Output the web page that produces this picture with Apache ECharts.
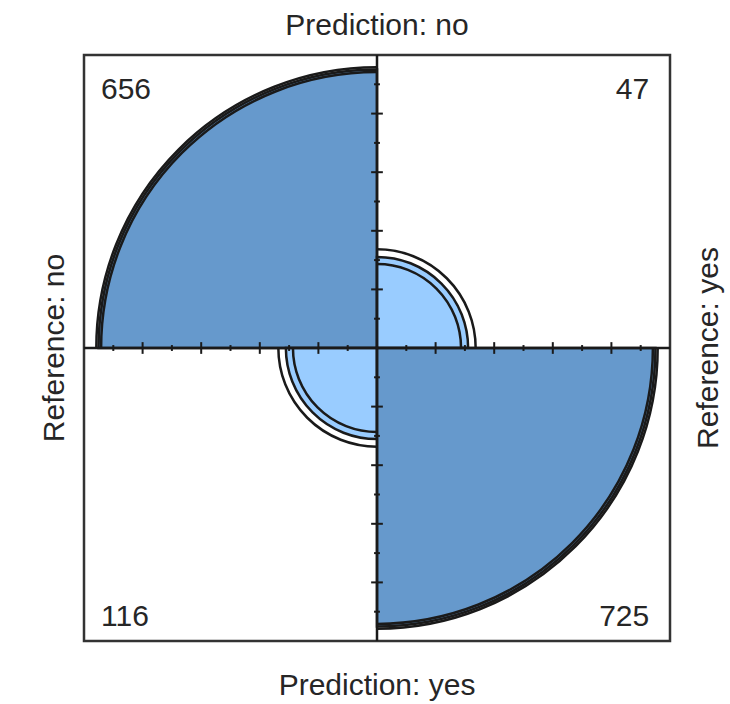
<!DOCTYPE html>
<html>
<head>
<meta charset="utf-8">
<script src="https://cdn.jsdelivr.net/npm/echarts@6/dist/echarts.min.js"></script>
<style>
  html, body { margin: 0; padding: 0; background: #fff; }
  #chart { width: 730px; height: 704px; }
</style>
</head>
<body>
<div id="chart"></div>
<script>
// confusion matrix: rows = Prediction (no, yes), columns = Reference (no, yes)
const predictionLabels = ['Prediction: no', 'Prediction: yes'];
const referenceLabels = ['Reference: no', 'Reference: yes'];
const countNoNo = 656;   // pred no, ref no   (top left)
const countNoYes = 47;   // pred no, ref yes  (top right)
const countYesNo = 116;  // pred yes, ref no  (bottom left)
const countYesYes = 725; // pred yes, ref yes (bottom right)
const confLevel = 0.95;
const majorTicks = [-0.8, -0.6, -0.4, -0.2, 0.2, 0.4, 0.6, 0.8];
const minorTicks = [-0.9, -0.7, -0.5, -0.3, -0.1, 0.1, 0.3, 0.5, 0.7, 0.9];

const fillLight = '#99CCFF';
const fillDark = '#6699CC';
const ink = '#1a1a1a';
const font = '"Liberation Sans", Arial, sans-serif';

// standardize to equal margins: diagonal cell = s/(1+s), off diagonal = 1/(1+s), s = sqrt(odds ratio)
function stdCells(theta) {
  const s = Math.sqrt(theta);
  return { diag: s / (1 + s), off: 1 / (1 + s) };
}
const oddsRatio = (countNoNo * countYesYes) / (countNoYes * countYesNo);
const se = Math.sqrt(1 / countNoNo + 1 / countNoYes + 1 / countYesNo + 1 / countYesYes);
const z = 1.959964; // qnorm((1 + confLevel) / 2)
const orLow = Math.exp(Math.log(oddsRatio) - z * se);
const orHigh = Math.exp(Math.log(oddsRatio) + z * se);
const est = stdCells(oddsRatio), lo = stdCells(orLow), hi = stdCells(orHigh);

// quadrant: [radius, fromDeg, toDeg, isDiagonal]
const quadrants = [
  [Math.sqrt(est.diag), 90, 180, 1],
  [Math.sqrt(est.off), 0, 90, 0],
  [Math.sqrt(est.off), 180, 270, 0],
  [Math.sqrt(est.diag), 270, 360, 1]
];
const rings = [];
quadrants.forEach(function (q) {
  const pick = q[3] ? 'diag' : 'off';
  rings.push([Math.sqrt(lo[pick]), q[1], q[2]]);
  rings.push([Math.sqrt(hi[pick]), q[1], q[2]]);
});

const tickData = [];
majorTicks.forEach(function (t) { tickData.push([t, 0.02]); });
minorTicks.forEach(function (t) { tickData.push([t, 0.01]); });

// count labels: [x, y, text, align]
const countLabels = [
  [-0.942, 0.885, String(countNoNo), 'left'],
  [0.929, 0.885, String(countNoYes), 'right'],
  [-0.942, -0.914, String(countYesNo), 'left'],
  [0.929, -0.914, String(countYesYes), 'right']
];

const chart = echarts.init(document.getElementById('chart'), null, { renderer: 'svg' });

function hiddenAxis(extra) {
  return Object.assign({
    type: 'value', min: -1, max: 1,
    axisLine: { show: false }, axisTick: { show: false },
    axisLabel: { show: false }, splitLine: { show: false },
    nameLocation: 'middle',
    nameTextStyle: { fontSize: 30, fontFamily: font, color: '#262626' }
  }, extra);
}

function toRad(d) { return d * Math.PI / 180; }

chart.setOption({
  animation: false,
  grid: {
    left: 84, top: 55, width: 590, height: 590,
    show: true, borderColor: '#333', borderWidth: 2.5, backgroundColor: 'transparent'
  },
  xAxis: [
    hiddenAxis({ position: 'bottom', name: predictionLabels[1], nameGap: 28 }),
    hiddenAxis({ position: 'top', name: predictionLabels[0], nameGap: 16 })
  ],
  yAxis: [
    hiddenAxis({ position: 'left', name: referenceLabels[0], nameGap: 16, nameRotate: 90 }),
    hiddenAxis({ position: 'right', name: referenceLabels[1], nameGap: 22, nameRotate: 90 })
  ],
  series: [
    {
      type: 'custom',
      data: quadrants,
      encode: { x: -1, y: -1 },
      z: 1,
      renderItem: function (params, api) {
        const c = api.coord([0, 0]);
        const r = api.size([api.value(0), 0])[0];
        return {
          type: 'sector',
          shape: {
            cx: c[0], cy: c[1], r0: 0, r: r,
            startAngle: -toRad(api.value(2)), endAngle: -toRad(api.value(1)), clockwise: true
          },
          style: { fill: api.value(3) ? fillDark : fillLight, stroke: ink, lineWidth: 2.5 }
        };
      }
    },
    {
      type: 'custom',
      data: rings,
      encode: { x: -1, y: -1 },
      z: 2,
      renderItem: function (params, api) {
        const c = api.coord([0, 0]);
        const r = api.size([api.value(0), 0])[0];
        return {
          type: 'arc',
          shape: {
            cx: c[0], cy: c[1], r: r,
            startAngle: -toRad(api.value(2)), endAngle: -toRad(api.value(1)), clockwise: true
          },
          style: { fill: null, stroke: ink, lineWidth: 2.5 }
        };
      }
    },
    {
      // centre cross
      type: 'custom',
      data: [[0]],
      encode: { x: -1, y: -1 },
      z: 3,
      renderItem: function (params, api) {
        const a = api.coord([-1, 0]), b = api.coord([1, 0]);
        const p = api.coord([0, -1]), q = api.coord([0, 1]);
        return {
          type: 'group',
          children: [
            { type: 'line', shape: { x1: a[0], y1: a[1], x2: b[0], y2: b[1] }, style: { stroke: ink, lineWidth: 2.5 } },
            { type: 'line', shape: { x1: p[0], y1: p[1], x2: q[0], y2: q[1] }, style: { stroke: ink, lineWidth: 2.5 } }
          ]
        };
      }
    },
    {
      // tick marks along both axes
      type: 'custom',
      data: tickData,
      encode: { x: -1, y: -1 },
      z: 4,
      renderItem: function (params, api) {
        const t = api.value(0), h = api.value(1);
        const a = api.coord([t, -h]), b = api.coord([t, h]);
        const p = api.coord([-h, t]), q = api.coord([h, t]);
        return {
          type: 'group',
          children: [
            { type: 'line', shape: { x1: a[0], y1: a[1], x2: b[0], y2: b[1] }, style: { stroke: ink, lineWidth: 2 } },
            { type: 'line', shape: { x1: p[0], y1: p[1], x2: q[0], y2: q[1] }, style: { stroke: ink, lineWidth: 2 } }
          ]
        };
      }
    },
    {
      type: 'custom',
      data: countLabels,
      z: 5,
      renderItem: function (params, api) {
        const d = countLabels[params.dataIndex];
        const p = api.coord([d[0], d[1]]);
        return {
          type: 'text',
          x: p[0], y: p[1],
          style: {
            text: d[2], fontSize: 30, fontFamily: font, fill: '#262626',
            align: d[3], verticalAlign: 'middle'
          }
        };
      }
    }
  ]
});
</script>
</body>
</html>
